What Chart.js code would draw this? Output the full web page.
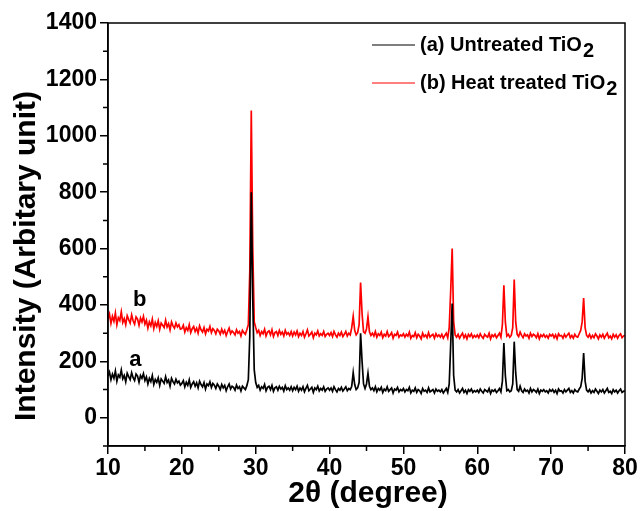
<!DOCTYPE html>
<html>
<head>
<meta charset="utf-8">
<script src="https://cdn.jsdelivr.net/npm/chart.js@4/dist/chart.umd.min.js"></script>
<style>
  html, body { margin: 0; padding: 0; background: #fff; }
  #wrap { width: 640px; height: 511px; }
</style>
</head>
<body>
<div id="wrap"><canvas id="xrd"></canvas></div>
<script>
// scansione 2theta: 10 -> 80 gradi, passo 0.2
const xStart = 10;
const xStep = 0.2;

// (a) TiO2 non trattato
const untreated = [
  148,162,135,155,140,166,130,152,144,170,138,150,128,158,146,135,160,142,132,155,148,126,150,140,157,
  132,145,120,140,128,150,118,136,126,142,115,138,130,122,146,125,134,112,140,128,120,137,124,130,116,
  122,132,110,126,115,135,108,120,128,112,124,106,130,118,110,125,102,120,114,128,108,122,116,104,120,
  112,100,118,106,115,96,110,120,102,112,108,98,116,104,110,95,112,106,100,114,135,290,800,420,170,
  125,108,115,98,110,104,118,96,108,112,100,115,94,106,110,98,112,102,108,95,114,100,106,98,110,
  96,108,100,112,94,106,98,110,92,104,115,96,102,108,90,106,100,112,95,104,98,110,94,102,106,
  98,106,94,110,100,92,104,98,108,95,102,110,96,104,100,112,160,118,100,106,125,300,200,120,104,
  120,158,112,100,106,96,110,92,104,98,108,90,102,96,110,94,100,106,88,102,98,108,92,100,96,
  104,92,100,96,108,88,98,94,106,90,100,96,86,104,94,98,90,106,92,96,100,88,102,94,98,
  92,100,88,96,104,90,120,260,405,150,98,92,100,88,96,104,90,98,86,100,94,102,90,96,92,
  98,90,102,94,88,100,96,92,104,86,98,94,100,90,96,104,92,130,265,150,96,100,92,96,120,
  270,160,100,94,112,96,90,102,94,98,88,104,92,100,96,90,102,86,98,94,100,92,96,88,100,
  94,100,90,98,86,102,94,96,88,100,92,98,104,90,96,88,100,94,92,102,110,140,230,130,98,
  92,100,88,96,90,102,94,86,98,92,100,88,96,104,90,94,86,100,92,98,88,96,102,90,94,
  96
];

// (b) TiO2 trattato termicamente
const heatTreated = [
  350,368,335,360,342,372,330,355,345,376,338,352,330,362,348,336,365,344,332,358,350,328,354,340,360,
  332,346,318,340,326,350,316,338,324,344,314,336,328,320,346,322,334,312,340,326,318,336,322,330,314,
  316,328,304,320,310,330,302,316,324,306,318,300,326,312,304,320,298,314,308,324,302,316,310,298,314,
  308,296,314,300,310,292,306,318,298,308,302,294,312,300,306,290,310,302,296,312,330,520,1090,600,340,
  320,302,310,292,306,298,314,290,304,308,294,312,288,302,306,292,310,296,304,290,310,296,302,292,306,
  290,304,294,308,288,300,292,306,286,298,312,290,296,304,284,300,294,308,290,298,292,306,288,296,300,
  292,302,288,306,294,286,300,292,304,288,296,306,290,300,294,320,360,310,294,302,330,480,370,305,300,
  315,358,305,292,300,290,306,286,298,292,304,284,296,290,306,288,294,302,282,296,292,304,286,294,290,
  298,286,296,290,304,282,292,288,302,284,296,290,280,300,288,294,284,302,286,292,296,282,298,288,294,
  286,296,282,292,300,284,320,450,600,340,294,286,296,282,292,300,284,294,280,296,288,298,284,292,286,
  294,284,298,288,282,296,290,286,300,280,294,288,296,284,292,300,286,330,470,340,290,296,286,292,320,
  490,340,296,288,304,292,284,298,290,294,282,300,288,296,292,284,298,280,294,288,296,286,292,282,296,
  290,296,284,294,280,298,290,292,282,296,286,294,300,284,292,282,296,288,286,298,310,340,425,320,292,
  286,296,282,292,284,298,290,280,294,286,296,282,292,300,284,290,280,296,286,294,282,292,298,284,290,
  292
];

const xTicks = [10, 20, 30, 40, 50, 60, 70, 80];
const xMinor = [15, 25, 35, 45, 55, 65, 75];
const yTicks = [0, 200, 400, 600, 800, 1000, 1200, 1400];
const yMinor = [-100, 100, 300, 500, 700, 900, 1100, 1300];

const seriesNames = ['(a) Untreated TiO', '(b) Heat treated TiO'];
const seriesColors = ['#000000', '#ff0000'];
const curveTags = [{ text: 'a', x: 13.7, y: 205 }, { text: 'b', x: 14.3, y: 417 }];

const labels = untreated.map((v, i) => +(xStart + i * xStep).toFixed(1));

// disegno cornice, tacche minori, legenda, titoli assi
const extras = {
  id: 'extras',
  afterDraw(chart) {
    const { ctx, chartArea: a, scales } = chart;
    const xs = scales.x, ys = scales.y;
    ctx.save();
    ctx.strokeStyle = '#000';
    ctx.lineWidth = 1.5;
    ctx.strokeRect(a.left, a.top, a.right - a.left, a.bottom - a.top);

    ctx.beginPath();
    xMinor.forEach(v => {
      const px = xs.getPixelForValue(v);
      ctx.moveTo(px, a.bottom); ctx.lineTo(px, a.bottom + 5);
    });
    yMinor.forEach(v => {
      const py = ys.getPixelForValue(v);
      ctx.moveTo(a.left, py); ctx.lineTo(a.left - 5, py);
    });
    ctx.stroke();

    // legenda
    ctx.fillStyle = '#000';
    ctx.textBaseline = 'middle';
    ctx.textAlign = 'left';
    seriesNames.forEach((name, i) => {
      const y = 45 + i * 38;
      ctx.strokeStyle = seriesColors[i];
      ctx.lineWidth = 1.2;
      ctx.beginPath(); ctx.moveTo(372, y); ctx.lineTo(415, y); ctx.stroke();
      ctx.font = 'bold 20px "Liberation Sans", Arial, sans-serif';
      ctx.fillText(name, 420, y);
      const w = ctx.measureText(name).width;
      ctx.fillText('2', 420 + w + 1, y + 6);
    });

    // etichette curve
    ctx.font = 'bold 22px "Liberation Sans", Arial, sans-serif';
    ctx.textAlign = 'center';
    curveTags.forEach(t => {
      ctx.fillText(t.text, xs.getPixelForValue(t.x), ys.getPixelForValue(t.y));
    });

    // titoli assi
    ctx.font = 'bold 30px "Liberation Sans", Arial, sans-serif';
    ctx.fillText('2\u03b8 (degree)', 368, 494, 165);
    ctx.translate(27, 256);
    ctx.rotate(-Math.PI / 2);
    ctx.fillText('Intensity (Arbitary unit)', 0, 0, 382);
    ctx.restore();
  }
};

const tickFont = { family: '"Liberation Sans", Arial, sans-serif', size: 23, weight: 'bold' };

new Chart(document.getElementById('xrd'), {
  type: 'line',
  data: {
    labels: labels,
    datasets: [
      { label: seriesNames[0], data: untreated, borderColor: seriesColors[0], borderWidth: 1.7, pointRadius: 0, tension: 0 },
      { label: seriesNames[1], data: heatTreated, borderColor: seriesColors[1], borderWidth: 1.7, pointRadius: 0, tension: 0 }
    ]
  },
  options: {
    responsive: true,
    maintainAspectRatio: false,
    animation: false,
    layout: { padding: { top: 23, right: 15, left: 0, bottom: 0 } },
    plugins: { legend: { display: false }, tooltip: { enabled: false } },
    scales: {
      x: {
        type: 'linear', min: 10, max: 80,
        afterBuildTicks: s => { s.ticks = xTicks.map(v => ({ value: v })); },
        afterFit: s => { s.height = 65; },
        ticks: { color: '#000', font: tickFont, padding: 1, maxRotation: 0, callback: v => String(v) },
        grid: { drawOnChartArea: false, tickLength: 8, color: '#000', lineWidth: 1.5 },
        border: { color: '#000', width: 1.5 }
      },
      y: {
        type: 'linear', min: -100, max: 1400,
        afterBuildTicks: s => { s.ticks = yTicks.map(v => ({ value: v })); },
        afterFit: s => { s.width = 108; },
        ticks: { color: '#000', font: tickFont, padding: 3, callback: v => String(v) },
        grid: { drawOnChartArea: false, tickLength: 8, color: '#000', lineWidth: 1.5 },
        border: { color: '#000', width: 1.5 }
      }
    }
  },
  plugins: [extras]
});
</script>
</body>
</html>
